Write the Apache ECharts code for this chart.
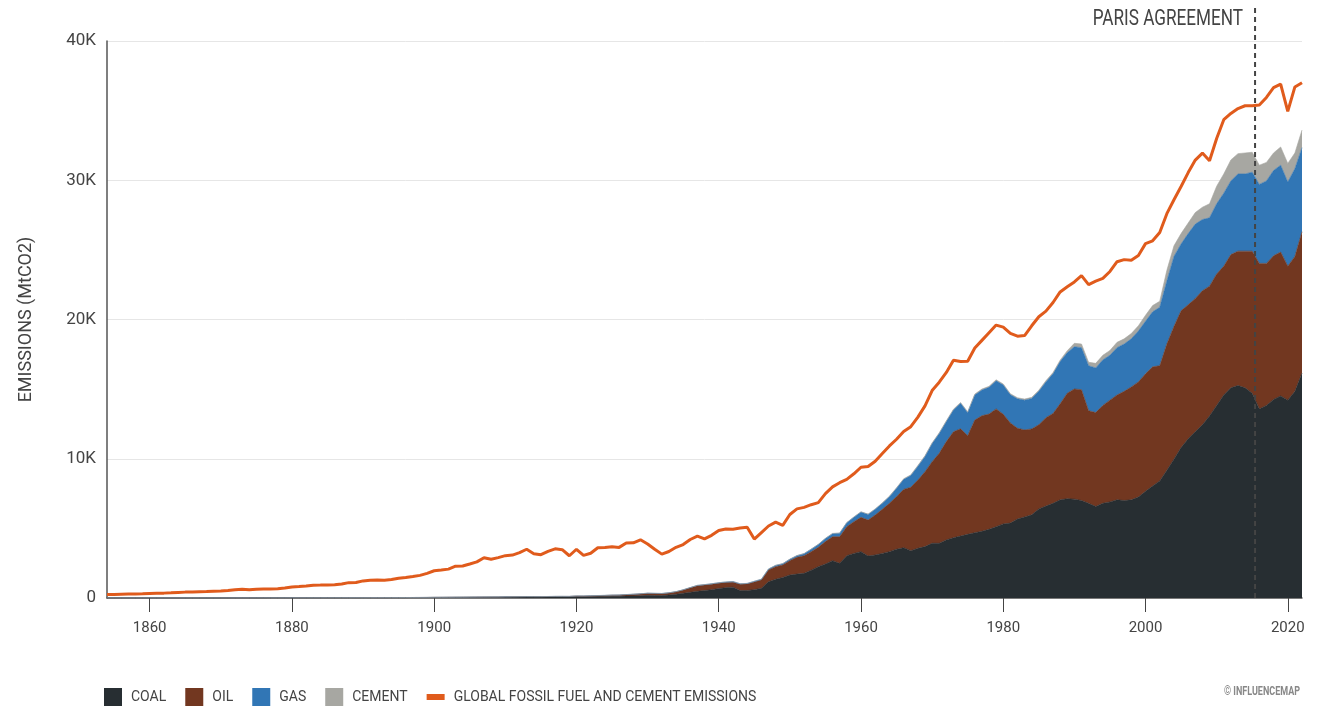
<!DOCTYPE html>
<html><head><meta charset="utf-8">
<script src="https://cdn.jsdelivr.net/npm/echarts@6/dist/echarts.min.js"></script>
<style>html,body{margin:0;padding:0;background:#fff}#c{width:1317px;height:708px}</style>
</head><body><div id="c"></div><script>
// Years 1854 .. 2022 (one value per year), MtCO2
const startYear = 1854;
const coal = [
2,2,3,3,3,4,4,5,5,5,
6,6,7,7,8,8,9,9,10,11,
11,12,12,13,13,14,15,16,17,18,
18,19,19,20,22,23,24,25,26,26,
27,28,30,32,34,36,40,42,44,46,
48,50,53,56,58,60,63,66,70,74,
72,70,75,80,82,78,95,90,95,105,
110,118,120,135,145,160,190,180,175,210,
270,340,410,480,540,600,680,740,780,530,
540,600,700,1170,1340,1480,1650,1720,1770,2000,
2250,2440,2680,2490,3040,3200,3330,3020,3090,3200,
3330,3500,3610,3400,3570,3690,3930,3930,4170,4330,
4450,4570,4690,4790,4930,5120,5320,5380,5670,5820,
5970,6400,6600,6800,7050,7130,7100,7000,6800,6570,
6800,6900,7050,7000,7050,7250,7660,8040,8410,9170,
9970,10800,11440,11940,12440,13070,13830,14580,15090,15260,
15090,14710,13580,13830,14260,14510,14210,14840,16150];
const oil = [
0,0,0,0,0,0,0,0,0,0,
0,0,0,0,0,0,1,1,1,1,
1,1,1,1,1,1,2,2,2,2,
2,2,2,2,2,2,3,3,3,3,
3,3,4,4,4,4,5,5,6,7,
8,9,10,11,12,13,15,17,20,22,
22,24,28,30,30,32,45,48,55,65,
70,80,85,100,115,130,140,140,135,150,
170,230,320,400,390,390,380,370,360,450,
460,550,590,840,910,890,1030,1200,1270,1330,
1390,1610,1720,1910,2080,2280,2460,2580,2870,3170,
3470,3780,4190,4550,4900,5380,5860,6460,7060,7610,
7700,7090,8090,8300,8280,8460,7880,7190,6520,6250,
6170,6040,6350,6450,6900,7580,7910,7960,6650,6750,
7030,7310,7530,7840,8110,8270,8440,8560,8270,9070,
9530,9830,9620,9570,9630,9320,9440,9250,9570,9650,
9820,10200,10450,10200,10320,10330,9620,9690,10150];
const gas = [
0,0,0,0,0,0,0,0,0,0,
0,0,0,0,0,0,0,0,0,0,
0,0,0,0,0,0,0,0,0,0,
0,0,0,0,0,0,1,1,1,1,
1,1,1,1,1,1,1,1,1,1,
1,2,2,2,2,2,3,3,3,3,
3,3,4,4,4,4,5,5,6,6,
7,8,9,10,11,12,14,14,14,15,
16,18,20,25,28,30,35,38,40,42,
45,48,55,70,90,90,100,120,140,170,
200,220,220,250,280,320,380,400,410,430,
480,600,720,850,1000,1100,1300,1420,1440,1560,
1830,1650,1800,1850,1920,2020,2100,2030,2120,2140,
2190,2400,2570,2850,3030,2900,3030,3020,3230,3200,
3270,3220,3400,3400,3450,3650,3770,3950,4200,4530,
5030,4790,5110,5340,5110,4910,5040,5240,5290,5540,
5540,5670,5670,5920,6120,6240,6040,6300,6040];
const cement = [
0,0,0,0,0,0,0,0,0,0,
0,0,0,0,0,0,0,0,0,0,
0,0,0,0,0,0,0,0,0,0,
0,0,0,0,0,0,0,0,0,0,
0,0,0,0,0,0,1,1,1,1,
1,1,1,1,1,1,2,2,2,2,
2,2,2,2,2,2,3,3,3,3,
3,3,3,3,3,3,4,4,4,4,
4,4,4,5,5,5,5,5,5,5,
5,5,8,10,10,10,12,12,14,14,
16,18,20,20,22,24,25,28,30,32,
35,38,40,42,45,48,50,52,55,58,
60,60,62,65,68,70,70,70,72,75,
78,80,85,90,100,150,250,260,250,330,
330,350,380,370,380,380,430,450,430,760,
760,750,760,830,880,1010,1260,1380,1510,1460,
1510,1430,1380,1330,1260,1310,1340,1130,1260];
const globalTotal = [
255,259,276,281,285,305,331,346,350,373,
399,422,432,455,461,491,499,534,584,622,
589,629,641,654,660,711,790,818,863,921,
929,938,950,1006,1103,1109,1229,1280,1295,1279,
1333,1424,1466,1539,1624,1770,1955,2009,2074,2284,
2302,2444,2592,2896,2782,2902,3042,3084,3260,3500,
3183,3112,3350,3530,3469,3033,3500,3060,3211,3611,
3628,3677,3635,3950,3966,4180,3880,3500,3150,3340,
3640,3840,4200,4440,4240,4500,4850,4960,4940,5030,
5080,4230,4700,5170,5450,5220,6000,6400,6510,6700,
6850,7500,7980,8280,8520,8920,9390,9440,9820,10380,
10920,11400,11950,12300,12990,13800,14900,15500,16200,17080,
16990,17000,17950,18500,19050,19600,19450,19000,18800,18850,
19550,20200,20600,21220,21980,22350,22700,23150,22500,22750,
22950,23450,24150,24300,24250,24600,25450,25650,26250,27600,
28600,29550,30550,31450,31950,31400,33000,34350,34800,35150,
35350,35350,35400,35950,36650,36900,34950,36700,37000];
const xTickYears = ['1860','1880','1900','1920','1940','1960','1980','2000','2020'];
const seriesNames = ['COAL','OIL','GAS','CEMENT','GLOBAL FOSSIL FUEL AND CEMENT EMISSIONS'];
const parisYear = 2015.4;
const parisLabel = 'PARIS AGREEMENT';
const yAxisTitle = 'EMISSIONS (MtCO2)';
const credit = '© INFLUENCEMAP';

const colors = {coal:'#272e32', oil:'#723720', gas:'#3176b5', cement:'#a7a7a2', total:'#e05b1c'};
const FONT = "'Roboto','Liberation Sans',sans-serif";
const years = coal.map((_, i) => String(startYear + i));

const chart = echarts.init(document.getElementById('c'), null, {renderer:'canvas'});
function areaSeries(name, data, color){
  return {name, type:'line', stack:'fuel', data:data, symbol:'none', showSymbol:false,
    lineStyle:{width:0.6, color}, itemStyle:{color}, areaStyle:{color, opacity:1}, emphasis:{disabled:true}, z:2};
}
const showTick = (i, v) => xTickYears.indexOf(String(v)) >= 0;
chart.setOption({
  animation:false,
  grid:{left:107, right:15, top:41, bottom:110},
  xAxis:{type:'category', data:years, boundaryGap:false,
    axisLine:{show:true, lineStyle:{color:'#555', width:1.5}},
    axisTick:{show:true, interval:showTick, length:14, lineStyle:{color:'#444', width:1}},
    axisLabel:{interval:showTick, color:'#444', fontSize:15, fontFamily:FONT, margin:23},
    splitLine:{show:false}},
  yAxis:{type:'value', min:0, max:40000, interval:10000,
    name:yAxisTitle, nameLocation:'middle', nameGap:72,
    nameTextStyle:{color:'#444', fontSize:18, fontFamily:FONT},
    axisLine:{show:true, lineStyle:{color:'#555', width:1.5}},
    axisTick:{show:false},
    axisLabel:{color:'#444', fontSize:17, fontFamily:FONT, margin:11,
      formatter:v => v === 0 ? '0' : (v/1000) + 'K'},
    splitLine:{show:true, lineStyle:{color:'#e6e6e6', width:1}}},
  legend:{left:104, top:688, padding:0, itemWidth:18, itemHeight:18, itemGap:19,
    textStyle:{color:'#444', fontSize:14, fontFamily:FONT, padding:[0,0,0,4]},
    data:[{name:seriesNames[0], icon:'rect'},{name:seriesNames[1], icon:'rect'},{name:seriesNames[2], icon:'rect'},{name:seriesNames[3], icon:'rect'},
      {name:seriesNames[4], icon:'path://M0,0H18V6H0Z'}]},
  series:[
    areaSeries(seriesNames[0], coal, colors.coal),
    areaSeries(seriesNames[1], oil, colors.oil),
    areaSeries(seriesNames[2], gas, colors.gas),
    areaSeries(seriesNames[3], cement, colors.cement),
    {name:seriesNames[4], type:'line', data:globalTotal, symbol:'none', showSymbol:false,
      lineStyle:{width:3, color:colors.total}, itemStyle:{color:colors.total}, z:5, emphasis:{disabled:true}}
  ]
});
// position of the Paris Agreement marker, interpolated between yearly categories
const y0 = Math.floor(parisYear);
const pA = chart.convertToPixel({xAxisIndex:0}, String(y0));
const pB = chart.convertToPixel({xAxisIndex:0}, String(y0 + 1));
const px = pA + (pB - pA) * (parisYear - y0);
const py0 = chart.convertToPixel({yAxisIndex:0}, 0);
chart.setOption({graphic:[
  {type:'line', shape:{x1:px, y1:8, x2:px, y2:py0}, style:{stroke:'#444', lineWidth:2, lineDash:[5,4]}, z:10},
  {type:'text', x:px-12, y:19, scaleX:0.78, originX:0, originY:0,
    style:{text:parisLabel, fill:'#444', font:'22px '+FONT, textAlign:'right', textVerticalAlign:'middle'}, z:10},
  {type:'text', x:1300, y:692, scaleX:0.75, originX:0, originY:0,
    style:{text:credit, fill:'#888', font:'bold 12px '+FONT, textAlign:'right', textVerticalAlign:'middle'}, z:10}
]});
</script></body></html>
